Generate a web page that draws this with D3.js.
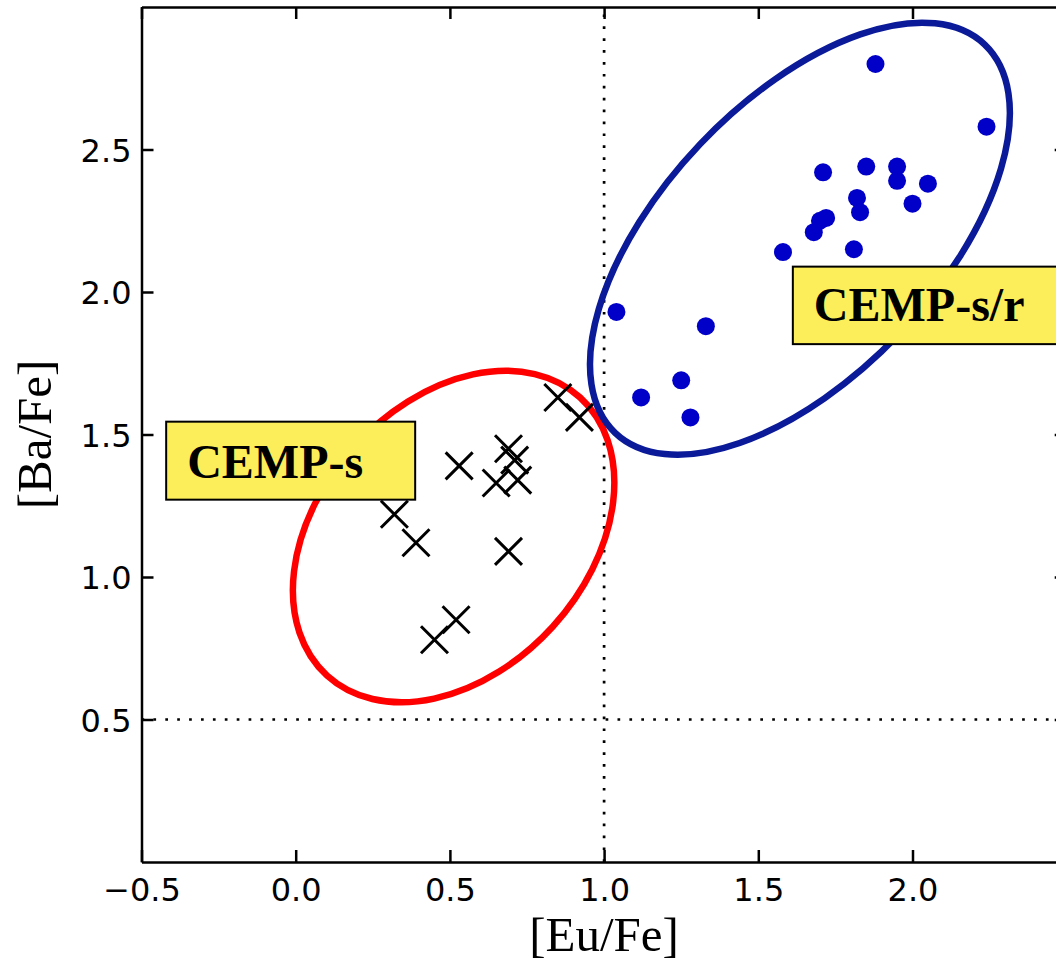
<!DOCTYPE html>
<html>
<head>
<meta charset="utf-8">
<script src="https://cdn.jsdelivr.net/npm/d3@7"></script>
<style>
  html, body { margin: 0; padding: 0; background: #fff; }
  svg { display: block; }
</style>
</head>
<body>
<svg id="chart" width="1056" height="963"></svg>
<script>
// CEMP-s stars (crosses): [Eu/Fe] and [Ba/Fe]
const cempSEu = [0.85, 0.92, 0.53, 0.69, 0.71, 0.65, 0.72, 0.32, 0.39, 0.69, 0.52, 0.45];
const cempSBa = [1.63, 1.56, 1.39, 1.45, 1.41, 1.33, 1.34, 1.22, 1.12, 1.09, 0.85, 0.78];

// CEMP-s/r stars (filled circles): [Eu/Fe] and [Ba/Fe]
const cempSrEu = [1.88, 2.24, 1.71, 1.85, 1.95, 1.95, 2.05, 1.82, 2.00, 1.83,
                  1.72, 1.70, 1.68, 1.58, 1.81, 1.04, 1.33, 1.25, 1.12, 1.28];
const cempSrBa = [2.80, 2.58, 2.42, 2.44, 2.44, 2.39, 2.38, 2.33, 2.31, 2.28,
                  2.26, 2.25, 2.21, 2.14, 2.15, 1.93, 1.88, 1.69, 1.63, 1.56];

// Axis ticks and reference levels
const xTicks = [-0.5, 0.0, 0.5, 1.0, 1.5, 2.0];
const xFrameTicks = [-0.5, 0.0, 0.5, 1.0, 1.5, 2.0, 2.5];
const yTicks = [0.5, 1.0, 1.5, 2.0, 2.5];
const euReference = 1.0;
const baReference = 0.5;

// Group names
const groupNames = ["CEMP-s", "CEMP-s/r"];

const svg = d3.select("#chart");
const W = 1056, H = 963;
svg.append("rect").attr("width", W).attr("height", H).attr("fill", "#fff");

const x = d3.scaleLinear().domain([-0.5, 2.5]).range([141.5, 1066.7]);
const y = d3.scaleLinear().domain([0, 3]).range([862, 7]);

const tickFont = "'DejaVu Sans', sans-serif";
const serif = "'Liberation Serif', 'Times New Roman', serif";
const fmt = d3.format(".1f");

// Reference lines (dotted)
const dots = svg.append("g").attr("stroke", "#000").attr("stroke-width", 2.7)
  .attr("stroke-dasharray", "2.7,9.2").attr("fill", "none");
dots.append("line")
  .attr("x1", x(-0.5)).attr("x2", x(2.5))
  .attr("y1", y(baReference)).attr("y2", y(baReference));
dots.append("line")
  .attr("x1", x(euReference)).attr("x2", x(euReference))
  .attr("y1", y(0)).attr("y2", y(3));

// Group outlines
const outlines = [
  { cx: 0.512, cy: 1.142, rx: 188, ry: 134, angle: 47.7, color: "#ff0000" },
  { cx: 1.635, cy: 2.187, rx: 268, ry: 137.5, angle: 46.4, color: "#0a1a98" }
];

// CEMP-s/r points
svg.append("g").selectAll("circle")
  .data(d3.zip(cempSrEu, cempSrBa))
  .join("circle")
  .attr("cx", d => x(d[0]))
  .attr("cy", d => y(d[1]))
  .attr("r", 9)
  .attr("fill", "#0000c8");

svg.append("g").selectAll("ellipse")
  .data(outlines)
  .join("ellipse")
  .attr("cx", d => x(d.cx))
  .attr("cy", d => y(d.cy))
  .attr("rx", d => d.rx)
  .attr("ry", d => d.ry)
  .attr("transform", d => `rotate(${-d.angle},${x(d.cx)},${y(d.cy)})`)
  .attr("fill", "none")
  .attr("stroke", d => d.color)
  .attr("stroke-width", 6.5);

// CEMP-s crosses
const half = 13.5;
const crosses = svg.append("g").attr("stroke", "#000").attr("stroke-width", 3)
  .selectAll("path")
  .data(d3.zip(cempSEu, cempSBa))
  .join("path")
  .attr("d", d => {
    const cx = x(d[0]), cy = y(d[1]);
    return `M${cx - half},${cy - half}L${cx + half},${cy + half}M${cx - half},${cy + half}L${cx + half},${cy - half}`;
  });

// Axes: ticks on all four sides, pointing inward
const axisStyle = g => {
  g.selectAll(".domain").attr("stroke", "#000").attr("stroke-width", 2.5);
  g.selectAll(".tick line").attr("stroke", "#000").attr("stroke-width", 2.5);
  g.selectAll("text").attr("fill", "#000").attr("font-family", tickFont).attr("font-size", 32);
};

svg.append("g")
  .attr("transform", `translate(0,${y(0)})`)
  .call(d3.axisBottom(x).tickValues(xFrameTicks).tickSizeInner(-12).tickSizeOuter(0)
    .tickPadding(16).tickFormat(d => xTicks.includes(d) ? fmt(d) : ""))
  .call(axisStyle);

svg.append("g")
  .attr("transform", `translate(${x(-0.5)},0)`)
  .call(d3.axisLeft(y).tickValues(yTicks).tickSizeInner(-12).tickSizeOuter(0)
    .tickPadding(10).tickFormat(fmt))
  .call(axisStyle)
  .call(g => g.selectAll("text").attr("dy", "0.36em"));

svg.append("g")
  .attr("transform", `translate(0,${y(3)})`)
  .call(d3.axisTop(x).tickValues(xFrameTicks).tickSizeInner(-12).tickSizeOuter(0).tickFormat(""))
  .call(axisStyle);

svg.append("g")
  .attr("transform", `translate(${x(2.5)},0)`)
  .call(d3.axisRight(y).tickValues(yTicks).tickSizeInner(-12).tickSizeOuter(0).tickFormat(""))
  .call(axisStyle);

// Axis titles
svg.append("text")
  .attr("x", x(1.0)).attr("y", 951)
  .attr("text-anchor", "middle")
  .attr("font-family", serif).attr("font-size", 49)
  .text("[Eu/Fe]");

svg.append("text")
  .attr("transform", `translate(51,${y(1.5)}) rotate(-90)`)
  .attr("text-anchor", "middle")
  .attr("font-family", serif).attr("font-size", 49)
  .text("[Ba/Fe]");

// Group labels in yellow boxes
const boxes = [
  { name: groupNames[0], left: -0.42, top: 1.545, w: 249, h: 78, tx: 21, ty: 56 },
  { name: groupNames[1], left: 1.612, top: 2.089, w: 300, h: 77.5, tx: 21, ty: 54 }
];
const bg = svg.append("g").selectAll("g").data(boxes).join("g")
  .attr("transform", d => `translate(${x(d.left)},${y(d.top)})`);
bg.append("rect")
  .attr("width", d => d.w).attr("height", d => d.h)
  .attr("fill", "#fbee5a").attr("stroke", "#000").attr("stroke-width", 2);
bg.append("text")
  .attr("x", d => d.tx).attr("y", d => d.ty)
  .attr("font-family", serif).attr("font-weight", "bold").attr("font-size", 48)
  .attr("fill", "#000")
  .text(d => d.name);
</script>
</body>
</html>
